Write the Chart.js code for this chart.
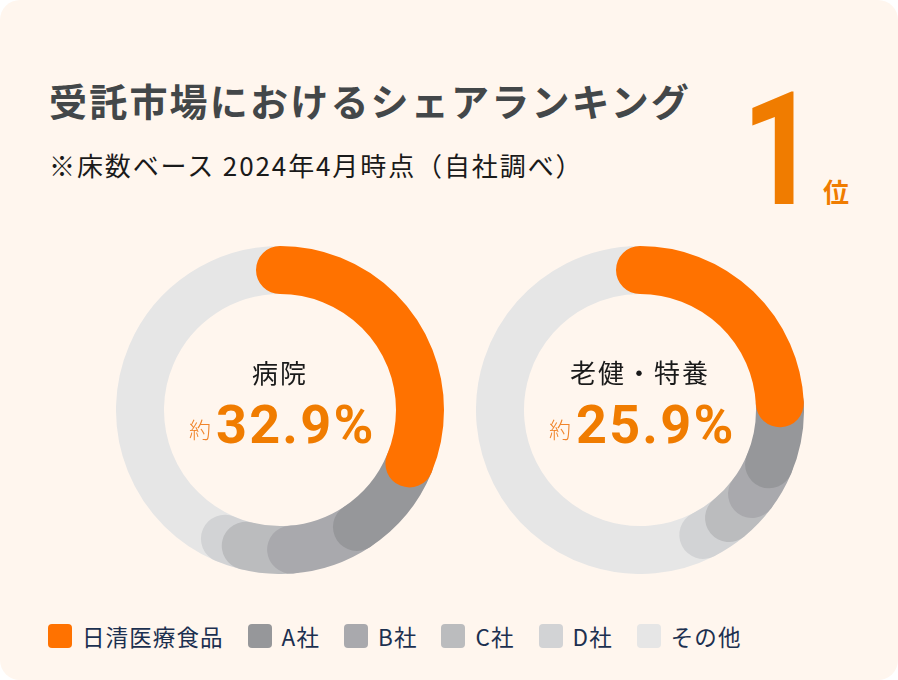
<!DOCTYPE html>
<html lang="ja">
<head>
<meta charset="utf-8">
<title>受託市場におけるシェアランキング</title>
<script src="https://cdn.jsdelivr.net/npm/chart.js@4/dist/chart.umd.min.js"></script>
<style>
    html, body { margin: 0; padding: 0; background: #fff; }
    body { width: 898px; height: 680px; overflow: hidden; font-family: "Noto Sans CJK JP", sans-serif; }
    .card { position: absolute; left: 0; top: 0; width: 898px; height: 680px; background: #fff6ee; border-radius: 20px; overflow: hidden; }
    .card > * { position: absolute; white-space: nowrap; }
    h1 { margin: 0; left: 49px; top: 73px; font-size: 38px; line-height: 54px; font-weight: 700; letter-spacing: 2.2px; color: #434749; }
    .note { left: 49px; top: 147px; font-size: 26px; line-height: 36px; letter-spacing: 1.9px; color: #1a1a1a; }
    .rank { left: 727px; top: 55px; font-family: Roboto, sans-serif; font-weight: 700; font-size: 158px; line-height: 190px; color: #f07c00; transform: scaleX(0.84); transform-origin: right center; }
    .rank-unit { left: 823px; top: 172px; font-size: 26px; line-height: 38px; font-weight: 700; color: #f07c00; }
    canvas { display: block; }
    .name { width: 328px; text-align: center; font-size: 26px; line-height: 36px; letter-spacing: 2px; color: #1a1a1a; top: 354px; }
    .approx { top: 410px; font-size: 22px; line-height: 36px; color: #f0842a; font-weight: 300; }
    .pct { top: 388px; font-family: Roboto, sans-serif; font-weight: 700; font-size: 54px; line-height: 74px; letter-spacing: 2.2px; color: #f07c00; }
    .legend { left: 48px; top: 624px; height: 24px; display: flex; align-items: center; font-size: 22.5px; letter-spacing: 1.1px; color: #1c3050; }
    .legend i { display: block; width: 24px; height: 24px; border-radius: 4px; margin-right: 10px; }
    .legend span { margin-right: 24px; }
</style>
</head>
<body>
<div class="card">
    <h1>受託市場におけるシェアランキング</h1>
    <div class="note">※床数ベース 2024年4月時点（自社調べ）</div>
    <div class="rank">1</div>
    <div class="rank-unit">位</div>

    <canvas id="hospitalChart" width="328" height="328" style="left:116px;top:246px"></canvas>
    <canvas id="careChart" width="328" height="328" style="left:476px;top:246px"></canvas>

    <div class="name" style="left:116px">病院</div>
    <div class="approx" style="left:189px">約</div>
    <div class="pct" style="left:216px" id="hospitalPct"></div>

    <div class="name" style="left:476px">老健・特養</div>
    <div class="approx" style="left:549px">約</div>
    <div class="pct" style="left:576px" id="carePct"></div>

    <div class="legend" id="legend"></div>
</div>
<script>
const categories = ["日清医療食品", "A社", "B社", "C社", "D社", "その他"];
const hospitalValues = [32.9, 9.5, 8.0, 5.2, 2.5, 41.9];
const careValues = [25.9, 7.1, 3.9, 3.8, 3.5, 55.8];
const colors = ["#ff7200", "#96979a", "#a9a9ad", "#bbbcbe", "#d2d3d5", "#e6e6e6"];

// caps are pulled back a little so the tip sits just past the value
const capShift = 6 * Math.PI / 180;

// doughnut arcs with round ends, each one lying over the next
const roundCaps = {
    id: "roundCaps",
    beforeDatasetDraw(chart) {
        const ctx = chart.ctx;
        const arcs = chart.getDatasetMeta(0).data;
        ctx.save();
        ctx.lineCap = "round";
        for (let i = arcs.length - 1; i >= 0; i--) {
            const a = arcs[i];
            const start = i === 0 ? a.startAngle : a.startAngle - capShift;
            const end = i === arcs.length - 1 ? a.endAngle : a.endAngle - capShift;
            ctx.beginPath();
            ctx.arc(a.x, a.y, (a.innerRadius + a.outerRadius) / 2, start, end);
            ctx.lineWidth = a.outerRadius - a.innerRadius;
            ctx.strokeStyle = colors[i];
            ctx.stroke();
        }
        ctx.restore();
        return false;
    },
};

function makeChart(id, values) {
    new Chart(document.getElementById(id), {
        type: "doughnut",
        data: {
            labels: categories,
            datasets: [{ data: values, backgroundColor: colors, borderWidth: 0 }],
        },
        options: {
            responsive: false,
            animation: false,
            cutout: 116,
            plugins: { legend: { display: false }, tooltip: { enabled: false } },
        },
        plugins: [roundCaps],
    });
}

makeChart("hospitalChart", hospitalValues);
makeChart("careChart", careValues);

document.getElementById("hospitalPct").textContent = hospitalValues[0] + "%";
document.getElementById("carePct").textContent = careValues[0] + "%";

const legend = document.getElementById("legend");
categories.forEach(function (name, i) {
    legend.insertAdjacentHTML("beforeend", '<i style="background:' + colors[i] + '"></i><span>' + name + "</span>");
});
</script>
</body>
</html>
